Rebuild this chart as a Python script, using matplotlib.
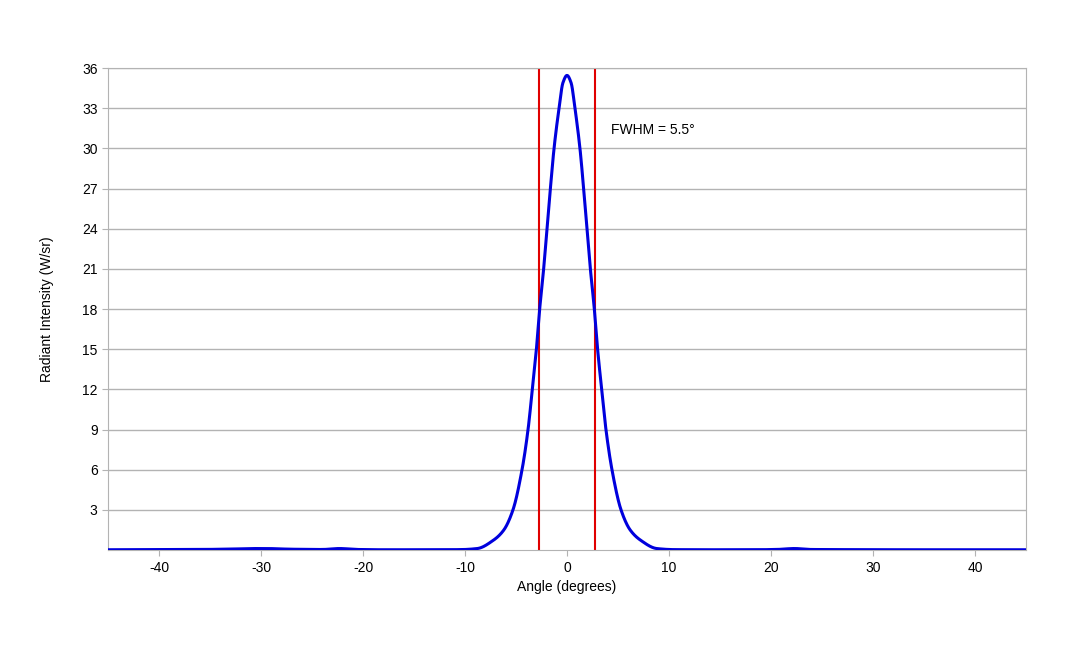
import numpy as np
import matplotlib
matplotlib.use("Agg")
import matplotlib.pyplot as plt

plt.rcParams['font.family'] = ['Liberation Sans', 'DejaVu Sans']
plt.rcParams['axes.unicode_minus'] = False

angle_pos = [0.0, 0.4, 0.78, 1.27, 1.63, 1.96, 2.29, 2.68, 3.0, 3.4, 3.82, 4.41, 5.3, 6.2, 7.2, 8.8, 10.5, 14, 18, 20.5, 22.3, 24, 27, 30, 33, 36, 40, 45]
value_pos = [35.45, 34.9, 33.0, 30.0, 27.0, 24.0, 21.0, 18.0, 15.0, 12.0, 9.0, 6.0, 3.0, 1.5, 0.75, 0.12, 0.04, 0.03, 0.03, 0.05, 0.12, 0.05, 0.04, 0.04, 0.03, 0.03, 0.03, 0.03]
tail_left_angle = [-45, -40, -36, -33, -30.5, -29.5, -27, -24, -22.3, -20.5, -18, -14, -10.5]
tail_left_value = [0.03, 0.04, 0.05, 0.08, 0.12, 0.12, 0.07, 0.05, 0.12, 0.05, 0.03, 0.03, 0.04]

core_left_a = [-a for a in angle_pos[::-1] if a <= 8.8]
core_left_v = [v for a, v in zip(angle_pos[::-1], value_pos[::-1]) if a <= 8.8]
angles = np.array(tail_left_angle + core_left_a[:-1] + angle_pos, dtype=float)
values = np.array(tail_left_value + core_left_v[:-1] + value_pos, dtype=float)
order = np.argsort(angles)
angles, values = angles[order], values[order]


def pchip(x, y, xs):
    h = np.diff(x)
    d = np.diff(y) / h
    n = len(x)
    m = np.zeros(n)
    for k in range(1, n - 1):
        if d[k - 1] * d[k] > 0:
            w1 = 2 * h[k] + h[k - 1]
            w2 = h[k] + 2 * h[k - 1]
            m[k] = (w1 + w2) / (w1 / d[k - 1] + w2 / d[k])
    m[0] = d[0]
    m[-1] = d[-1]
    idx = np.clip(np.searchsorted(x, xs) - 1, 0, n - 2)
    t = (xs - x[idx]) / h[idx]
    h00 = 2 * t**3 - 3 * t**2 + 1
    h10 = t**3 - 2 * t**2 + t
    h01 = -2 * t**3 + 3 * t**2
    h11 = t**3 - t**2
    return h00 * y[idx] + h10 * h[idx] * m[idx] + h01 * y[idx + 1] + h11 * h[idx] * m[idx + 1]


xs = np.linspace(-45, 45, 3000)
ys = pchip(angles, values, xs)

fwhm_left, fwhm_right = -2.75, 2.75
yticks = list(range(3, 37, 3))
xticks = list(range(-40, 41, 10))

fig = plt.figure(figsize=(10.8, 6.48), dpi=100)
ax = fig.add_axes([0.1, 0.151, 0.85, 0.744])
ax.plot(xs, ys, color='#0000dd', lw=2.2, zorder=3)
ax.axvline(fwhm_left, color='#e00000', lw=1.5, zorder=2)
ax.axvline(fwhm_right, color='#e00000', lw=1.5, zorder=2)
ax.set_xlim(-45, 45)
ax.set_ylim(0, 36)
ax.set_yticks(yticks)
ax.set_xticks(xticks)
ax.yaxis.grid(True, color='#b3b3b3', lw=1)
ax.set_axisbelow(True)
for s in ax.spines.values():
    s.set_color('#b3b3b3')
ax.tick_params(colors='#b3b3b3', labelcolor='black', labelsize=10, length=4)
ax.set_xlabel('Angle (degrees)', fontsize=10)
ax.set_ylabel('Radiant Intensity (W/sr)', fontsize=10, labelpad=20)
ax.text(4.3, 31.4, 'FWHM = 5.5°', fontsize=10, va='center')
fig.savefig('out.png', dpi=100)
